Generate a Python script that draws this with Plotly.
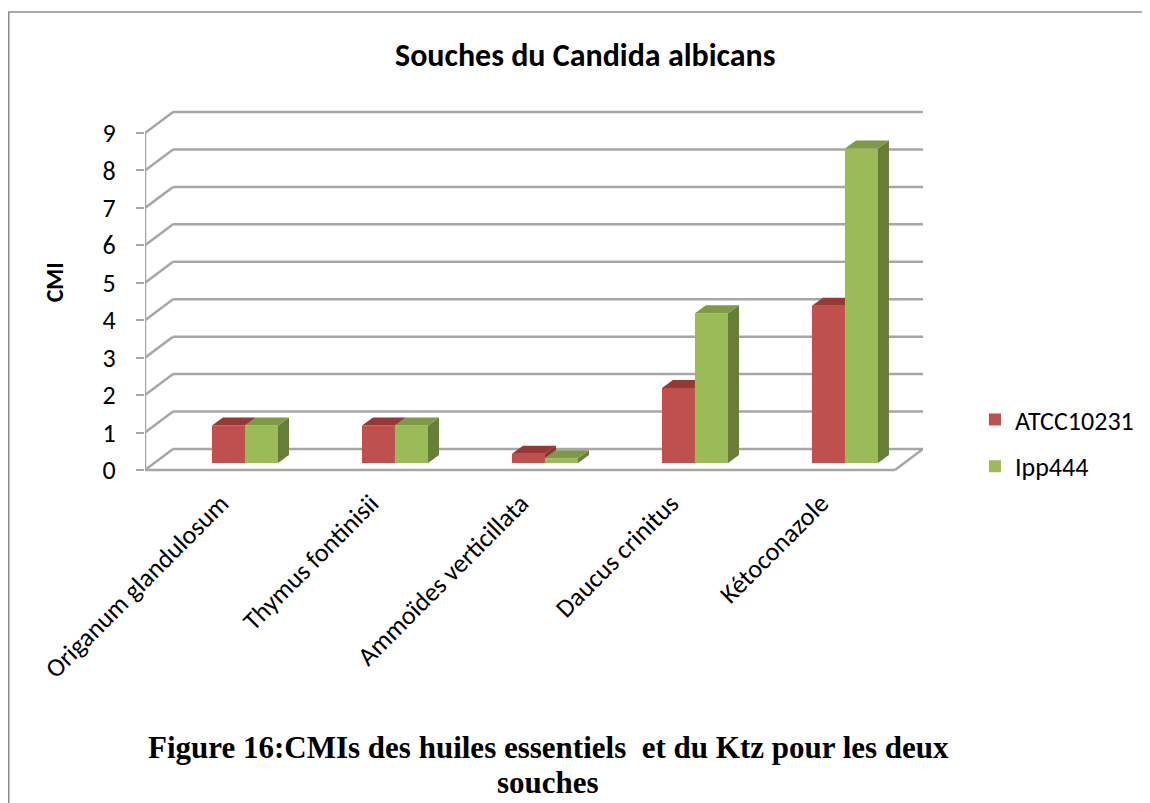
import plotly.graph_objects as go

# ---------------- data ----------------
categories = ["Origanum glandulosum", "Thymus fontinisii", "Ammoïdes verticillata",
              "Daucus crinitus", "Kétoconazole"]
atcc10231 = [1, 1, 0.25, 2, 4.2]
ipp444 = [1, 1, 0.125, 4, 8.4]
y_ticks = [0, 1, 2, 3, 4, 5, 6, 7, 8, 9]
series_names = ["ATCC10231", "Ipp444"]

# ---------------- style / geometry constants ----------------
RED, RED_TOP, RED_SIDE = "#C0504D", "#953836", "#8A3331"
GRN, GRN_TOP, GRN_SIDE = "#9BBB59", "#7E9A45", "#677E37"
GRID = "#a6a6a6"
BASE = 0.187      # bars sit slightly inside the floor (depth)
W = 0.22          # bar width (category units)
DX, DY = 0.0733, 0.214        # bar depth offset
BDX, BDY = 0.187, 0.561       # back-wall offset
X_LEFT = -2 / 3
X_RIGHT_FRONT = 4 + 1 / 3
X_RIGHT_BACK = X_RIGHT_FRONT + BDX

xs = list(range(len(categories)))

fig = go.Figure()

# front faces
fig.add_trace(go.Bar(x=[i - W / 2 for i in xs], y=atcc10231, base=BASE, width=W,
                     marker=dict(color=RED, line=dict(width=0)),
                     name=series_names[0], legendgroup="a"))
fig.add_trace(go.Bar(x=[i + W / 2 for i in xs], y=ipp444, base=BASE, width=W,
                     marker=dict(color=GRN, line=dict(width=0)),
                     name=series_names[1], legendgroup="b"))


def polys(list_of_pts):
    px, py = [], []
    for pts in list_of_pts:
        for (a, b) in pts:
            px.append(a)
            py.append(b)
        px.append(pts[0][0]); py.append(pts[0][1])
        px.append(None); py.append(None)
    return px, py


def face_trace(pts, color):
    px, py = polys(pts)
    return go.Scatter(x=px, y=py, mode="lines", fill="toself", fillcolor=color,
                      line=dict(width=0, color=color), hoverinfo="skip",
                      showlegend=False)


g_side, g_top, r_side, r_top = [], [], [], []
for i, r, g in zip(xs, atcc10231, ipp444):
    hr, hg = BASE + r, BASE + g
    x0, x1, x2 = i - W, i, i + W
    g_side.append([(x2, BASE), (x2 + DX, BASE + DY), (x2 + DX, hg + DY), (x2, hg)])
    g_top.append([(x1, hg), (x2, hg), (x2 + DX, hg + DY), (x1 + DX, hg + DY)])
    if r > g:
        r_side.append([(x1, hg), (x1 + DX, hg + DY), (x1 + DX, hr + DY), (x1, hr)])
    if g > r:
        r_top.append([(x0, hr), (x1, hr), (x1, hr + DY), (x0 + DX, hr + DY)])
    else:
        r_top.append([(x0, hr), (x1, hr), (x1 + DX, hr + DY), (x0 + DX, hr + DY)])

fig.add_trace(face_trace(g_side, GRN_SIDE))
fig.add_trace(face_trace(g_top, GRN_TOP))
if r_side:
    fig.add_trace(face_trace(r_side, RED_SIDE))
fig.add_trace(face_trace(r_top, RED_TOP))

# walls / gridlines
shapes = []
line_style = dict(color=GRID, width=2.5)
for v in y_ticks:
    shapes.append(dict(type="line", xref="x", yref="y", layer="below",
                       x0=X_LEFT, y0=v, x1=X_LEFT + BDX, y1=v + BDY, line=line_style))
    shapes.append(dict(type="line", xref="x", yref="y", layer="below",
                       x0=X_LEFT + BDX, y0=v + BDY, x1=X_RIGHT_BACK, y1=v + BDY,
                       line=line_style))
shapes.append(dict(type="line", xref="x", yref="y", layer="below",
                   x0=X_LEFT, y0=0, x1=X_RIGHT_FRONT, y1=0, line=line_style))
shapes.append(dict(type="line", xref="x", yref="y", layer="below",
                   x0=X_RIGHT_FRONT, y0=0, x1=X_RIGHT_BACK, y1=BDY, line=line_style))
shapes.append(dict(type="line", xref="x", yref="y", layer="below",
                   x0=X_LEFT, y0=0, x1=X_LEFT, y1=y_ticks[-1], line=line_style))
# outer frame
shapes.append(dict(type="rect", xref="paper", yref="paper", layer="below",
                   x0=-0.1751, y0=-0.9, x1=1.32, y1=1.2316,
                   line=dict(color="#8c8c8c", width=1.5)))

SANS = "Carlito, Calibri, Lato, sans-serif"
SERIF = "Liberation Serif, Times New Roman, serif"

annotations = [
    dict(text="<b>Souches du Candida albicans</b>", xref="paper", yref="paper",
         x=0.5656, y=1.118, showarrow=False, xanchor="center", yanchor="middle",
         font=dict(family=SANS, size=32, color="black")),
    dict(text="<b>CMI</b>", xref="paper", yref="paper", x=-0.117, y=0.52,
         textangle=-90, showarrow=False, xanchor="center", yanchor="middle",
         font=dict(family=SANS, size=24, color="black")),
    dict(text="<b>Figure 16:CMIs des huiles essentiels  et du Ktz pour les deux</b>",
         xref="paper", yref="paper", x=0.518, y=-0.705, showarrow=False,
         xanchor="center", yanchor="middle",
         font=dict(family=SERIF, size=31, color="black")),
    dict(text="<b>souches</b>", xref="paper", yref="paper", x=0.518, y=-0.797,
         showarrow=False, xanchor="center", yanchor="middle",
         font=dict(family=SERIF, size=31, color="black")),
]

fig.update_layout(
    width=1150, height=803,
    margin=dict(l=137, r=235, t=92, b=331, pad=0),
    paper_bgcolor="white", plot_bgcolor="white",
    barmode="overlay",
    shapes=shapes, annotations=annotations,
    showlegend=True,
    legend=dict(x=1.0668, y=0.097, xanchor="left", yanchor="middle",
                traceorder="grouped", tracegroupgap=10,
                font=dict(family=SANS, size=26, color="black"),
                bgcolor="rgba(0,0,0,0)"),
    xaxis=dict(range=[X_LEFT, X_RIGHT_BACK], tickmode="array", tickvals=xs,
               ticktext=categories, tickangle=-45, showgrid=False, zeroline=False,
               showline=False, ticks="", ticklabelshift=-24, ticklabelstandoff=2,
               tickfont=dict(family=SANS, size=26, color="black")),
    yaxis=dict(range=[-0.267, 9.882], tickmode="array", tickvals=y_ticks,
               ticktext=[str(v) for v in y_ticks], showgrid=False, zeroline=False,
               showline=False, ticks="outside", ticklen=8, tickwidth=2,
               tickcolor=GRID, ticklabelstandoff=15,
               tickfont=dict(family=SANS, size=26, color="black")),
)

fig.write_html("out.html")
